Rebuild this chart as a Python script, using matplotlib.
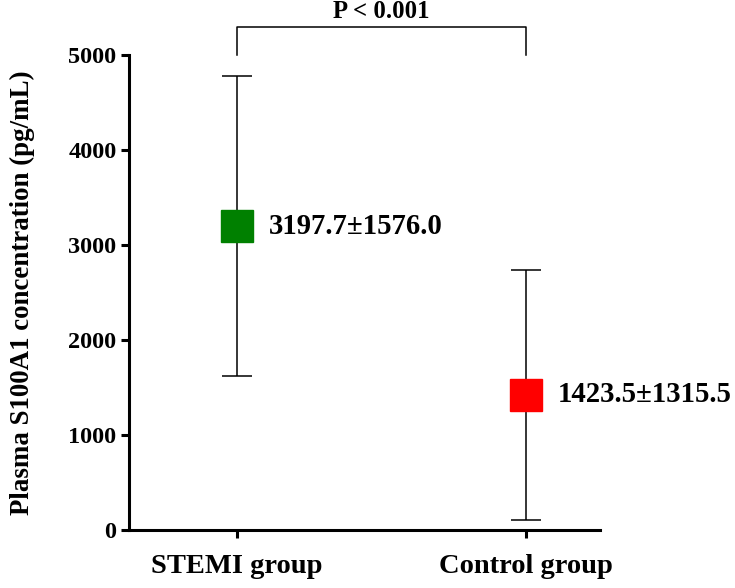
import matplotlib.pyplot as plt

groups = ["STEMI group", "Control group"]
means = [3197.7, 1423.5]
sds = [1576.0, 1315.5]
colors = ["#008000", "#ff0000"]
p_text = "P < 0.001"

plt.rcParams['font.family'] = ['Liberation Serif', 'DejaVu Serif']
plt.rcParams['font.weight'] = 'bold'

fig = plt.figure(figsize=(7.35, 5.88), dpi=100)
ax = fig.add_axes([0.1755, 0.0986, 0.6408, 0.8079])

xs = list(range(len(groups)))
for x, m, s, c in zip(xs, means, sds, colors):
    ax.errorbar(x, m, yerr=s, fmt='none', ecolor='black', elinewidth=1.1,
                capsize=11, capthick=1.1, zorder=2)
    ax.plot(x, m, marker='s', markersize=23, color=c, linestyle='none', zorder=3)
    ax.annotate("%.1f\u00b1%.1f" % (m, s), (x, m), xytext=(23, 0),
                textcoords='offset points', va='center', ha='left',
                fontsize=20.7, fontweight='bold')

ax.set_xlim(-0.374, 1.256)
ax.set_ylim(0, 5000)
ax.set_yticks([0, 1000, 2000, 3000, 4000, 5000])
ax.set_xticks(xs)
ax.set_xticklabels(groups, fontsize=20.5, fontweight='bold')
ax.tick_params(axis='y', labelsize=17.5, width=2.2, length=5.5)
ax.tick_params(axis='x', width=2.2, length=5.5, pad=12)
for lab in ax.get_yticklabels():
    lab.set_fontweight('bold')
ax.set_ylabel("Plasma S100A1 concentration (pg/mL)", fontsize=19.4,
              fontweight='bold', labelpad=24)

for sp in ['top', 'right']:
    ax.spines[sp].set_visible(False)
for sp in ['left', 'bottom']:
    ax.spines[sp].set_linewidth(2.2)

# significance bracket
ytop = 5290
ax.plot([0, 0, 1, 1], [5000, ytop, ytop, 5000], color='black', lw=1.1,
        clip_on=False)
ax.text(0.5, ytop + 45, p_text, ha='center', va='bottom', fontsize=17.8,
        fontweight='bold')

fig.savefig("out.png", dpi=100)
